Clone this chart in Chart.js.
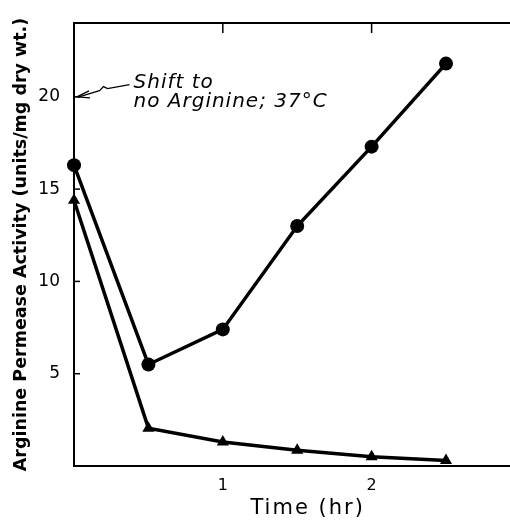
<!DOCTYPE html>
<html><head><meta charset="utf-8">
<style>html,body{margin:0;padding:0;background:#fff;overflow:hidden}#wrap{width:510px;height:521px}</style>
<script src="https://cdn.jsdelivr.net/npm/chart.js@4/dist/chart.umd.min.js"></script>
</head><body><div id="wrap"><canvas id="c" width="510" height="521"></canvas></div>
<script>
const timesHr = [0, 0.5, 1, 1.5, 2, 2.5];
const circleSeries = [16.3, 5.5, 7.4, 13.0, 17.3, 21.8];
const triangleSeries = [14.4, 2.05, 1.3, 0.85, 0.5, 0.3];
const yTickValues = [5, 10, 15, 20];
const xTickValues = [1, 2];
const xTitle = 'Time (hr)';
const yTitle = 'Arginine Permease Activity (units/mg dry wt.)';
const noteLines = ['Shift to', 'no Arginine; 37\u00B0C'];

const toXY = (ys) => timesHr.map((t, i) => ({x: t, y: ys[i]}));

const framePlugin = {
  id: 'frame',
  afterDraw(chart) {
    const {ctx, chartArea: a, scales: {x, y}} = chart;
    ctx.save();
    ctx.strokeStyle = '#000';
    ctx.lineWidth = 2;
    ctx.beginPath();
    ctx.moveTo(a.left, a.top); ctx.lineTo(chart.width, a.top);
    ctx.stroke();
    ctx.lineWidth = 1.5;
    yTickValues.forEach(v => {
      const py = y.getPixelForValue(v);
      ctx.beginPath(); ctx.moveTo(a.left, py); ctx.lineTo(a.left + 6, py); ctx.stroke();
    });
    xTickValues.forEach(v => {
      const px = x.getPixelForValue(v);
      ctx.beginPath(); ctx.moveTo(px, a.top); ctx.lineTo(px, a.top + 10); ctx.stroke();
    });
    ctx.fillStyle = '#000';
    // x axis title (letter-spaced)
    ctx.font = '21px "DejaVu Sans", sans-serif';
    try { ctx.letterSpacing = '2px'; } catch (e) {}
    ctx.textAlign = 'center';
    ctx.textBaseline = 'middle';
    ctx.fillText(xTitle, x.getPixelForValue(1.57), chart.height - 12);
    // annotation
    const tx = x.getPixelForValue(0.40);
    const ty1 = y.getPixelForValue(20.5);
    ctx.font = 'oblique 20px "DejaVu Sans", sans-serif';
    try { ctx.letterSpacing = '1px'; } catch (e) {}
    ctx.textAlign = 'left';
    ctx.textBaseline = 'alphabetic';
    ctx.fillText(noteLines[0], tx, ty1);
    ctx.fillText(noteLines[1], tx, ty1 + 19);
    try { ctx.letterSpacing = '0px'; } catch (e) {}
    // zigzag arrow to y axis at 20
    const ax = a.left + 3, ay = y.getPixelForValue(20);
    ctx.lineWidth = 1.3;
    ctx.beginPath();
    ctx.moveTo(tx - 4, ty1 - 3);
    ctx.lineTo(tx - 26, ty1 + 1);
    ctx.lineTo(tx - 30, ty1 - 1);
    ctx.lineTo(tx - 34, ty1 + 3);
    ctx.lineTo(ax + 2, ay);
    ctx.stroke();
    ctx.beginPath();
    ctx.moveTo(ax + 12, ay - 6);
    ctx.lineTo(ax, ay);
    ctx.lineTo(ax + 13, ay + 1);
    ctx.stroke();
    ctx.restore();
  }
};

new Chart(document.getElementById('c'), {
  type: 'line',
  data: {
    datasets: [
      {data: toXY(circleSeries), borderColor: '#000', backgroundColor: '#000', borderWidth: 3.5,
       pointStyle: 'circle', pointRadius: 7, pointBorderWidth: 0, tension: 0, clip: false},
      {data: toXY(triangleSeries), borderColor: '#000', backgroundColor: '#000', borderWidth: 3.5,
       pointStyle: 'triangle', pointRadius: 7, pointBorderWidth: 0, tension: 0, clip: false}
    ]
  },
  options: {
    responsive: false,
    animation: false,
    layout: {autoPadding: false, padding: {top: 23, right: 0, left: 0, bottom: 0}},
    plugins: {legend: {display: false}, tooltip: {enabled: false}},
    scales: {
      x: {
        type: 'linear', min: 0, max: 2.93,
        afterFit(s) { s.height = 55; s.paddingRight = 0; s.paddingLeft = 0; },
        afterBuildTicks(s) { s.ticks = xTickValues.map(v => ({value: v})); },
        grid: {display: false},
        border: {display: true, color: '#000', width: 2},
        ticks: {color: '#000', font: {family: '"DejaVu Sans", sans-serif', size: 16}, padding: 2, maxRotation: 0},
        title: {display: false, text: xTitle}
      },
      y: {
        type: 'linear', min: 0, max: 24,
        afterFit(s) { s.width = 74; s.paddingTop = 0; s.paddingBottom = 0; },
        afterBuildTicks(s) { s.ticks = yTickValues.map(v => ({value: v})); },
        grid: {display: false},
        border: {display: true, color: '#000', width: 2},
        ticks: {color: '#000', font: {family: '"DejaVu Sans", sans-serif', size: 17}, padding: 6},
        title: {display: true, text: yTitle, color: '#000',
                font: {family: '"DejaVu Sans", sans-serif', size: 17.5, weight: 'bold'}, padding: {top: 11, bottom: 0}}
      }
    }
  },
  plugins: [framePlugin]
});
</script></body></html>
